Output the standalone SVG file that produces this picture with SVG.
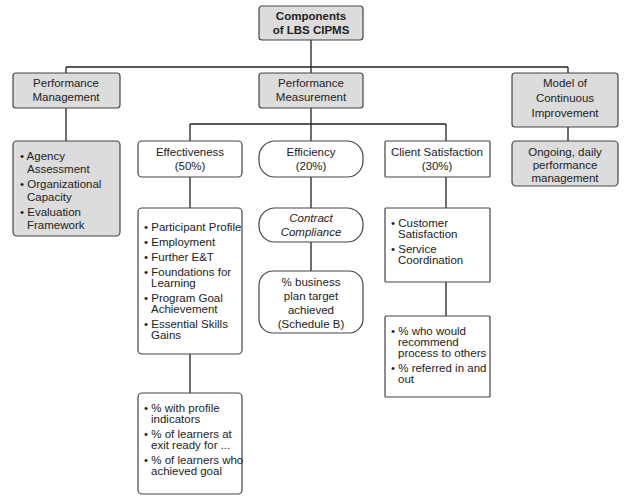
<svg xmlns="http://www.w3.org/2000/svg" width="632" height="500" viewBox="0 0 632 500">
<style>
text{font-family:"Liberation Sans",Arial,sans-serif;font-size:11.5px;fill:#222}
.c{text-anchor:middle}
.g{fill:#dcdcdc;stroke:#444;stroke-width:1.2}
.w{fill:#fff;stroke:#444;stroke-width:1.2}
.l{fill:none;stroke:#222;stroke-width:1.3}
</style>
<rect width="632" height="500" fill="#fff"/>
<g id="connectors" class="l">
<path d="M311 40V67M66 67H568M66 67V73M311 67V73M568 67V73"/>
<path d="M66 108V141M568 127V141"/>
<path d="M311 108V124M190 124H446M190 124V141M311 124V141M446 124V141"/>
<path d="M190 177V208M311 177V208M446 177V208M311 242V271M446 282V316M190 354V393"/>
</g>
<g id="root"><rect class="g" x="259" y="6" width="104" height="34" rx="3" stroke-width="1.5"/><text class="c" x="311" y="20" font-weight="bold" font-size="12">Components</text><text class="c" x="311" y="34" font-weight="bold" font-size="12">of LBS CIPMS</text></g>
<g id="pmgmt"><rect class="g" x="13" y="73" width="107" height="35" rx="3"/><text class="c" x="66" y="87">Performance</text><text class="c" x="66" y="101">Management</text></g>
<g id="pmeas"><rect class="g" x="259" y="73" width="104" height="35" rx="3"/><text class="c" x="311" y="87">Performance</text><text class="c" x="311" y="101">Measurement</text></g>
<g id="model"><rect class="g" x="512" y="73" width="106" height="54" rx="3"/><text class="c" x="565" y="87">Model of</text><text class="c" x="565" y="102">Continuous</text><text class="c" x="565" y="117">Improvement</text></g>
<g id="pmlist"><rect class="g" x="13" y="141" width="107" height="95" rx="4"/>
<text x="20" y="160">• Agency</text><text x="27" y="173">Assessment</text>
<text x="20" y="188">• Organizational</text><text x="27" y="201">Capacity</text>
<text x="20" y="216">• Evaluation</text><text x="27" y="229">Framework</text></g>
<g id="ongoing"><rect class="g" x="512" y="141" width="106" height="45" rx="4"/><text class="c" x="565" y="156">Ongoing, daily</text><text class="c" x="565" y="169">performance</text><text class="c" x="565" y="182">management</text></g>
<g id="effect"><rect class="w" x="138" y="141" width="104" height="36" rx="4"/><text class="c" x="190" y="156">Effectiveness</text><text class="c" x="190" y="170">(50%)</text></g>
<g id="effic"><rect class="w" x="259" y="141" width="104" height="36" rx="16"/><text class="c" x="311" y="156">Efficiency</text><text class="c" x="311" y="170">(20%)</text></g>
<g id="client"><rect class="w" x="385" y="141" width="105" height="36" rx="1"/><text class="c" x="437" y="156">Client Satisfaction</text><text class="c" x="437" y="170">(30%)</text></g>
<g id="eflist"><rect class="w" x="138" y="208" width="104" height="146" rx="4"/>
<g font-size="10.2">
<text x="144" y="231">• Participant Profile</text>
<text x="144" y="246">• Employment</text>
<text x="144" y="261">• Further E&amp;T</text>
<text x="144" y="276">• Foundations for</text><text x="151" y="287">Learning</text>
<text x="144" y="302">• Program Goal</text><text x="151" y="313">Achievement</text>
<text x="144" y="328">• Essential Skills</text><text x="151" y="339">Gains</text></g></g>
<g id="contract"><rect class="w" x="259" y="208" width="104" height="34" rx="16"/><text class="c" x="311" y="222" font-style="italic">Contract</text><text class="c" x="311" y="236" font-style="italic">Compliance</text></g>
<g id="business"><rect class="w" x="259" y="271" width="104" height="62" rx="14"/><text class="c" x="311" y="286">% business</text><text class="c" x="311" y="300">plan target</text><text class="c" x="311" y="314">achieved</text><text class="c" x="311" y="328">(Schedule B)</text></g>
<g id="cslist"><rect class="w" x="385" y="208" width="105" height="74" rx="1"/>
<g font-size="10.2"><text x="391" y="227">• Customer</text><text x="398" y="238">Satisfaction</text>
<text x="391" y="253">• Service</text><text x="398" y="264">Coordination</text></g></g>
<g id="csmetrics"><rect class="w" x="385" y="316" width="105" height="81" rx="1"/>
<g font-size="10.2"><text x="391" y="335">• % who would</text><text x="398" y="346">recommend</text><text x="398" y="357">process to others</text>
<text x="391" y="372">• % referred in and</text><text x="398" y="383">out</text></g></g>
<g id="efmetrics"><rect class="w" x="138" y="393" width="104" height="101" rx="4"/>
<g font-size="10.2"><text x="144" y="412">• % with profile</text><text x="151" y="423">indicators</text>
<text x="144" y="438">• % of learners at</text><text x="151" y="449">exit ready for ...</text>
<text x="144" y="464">• % of learners who</text><text x="151" y="475">achieved goal</text></g></g>
</svg>
